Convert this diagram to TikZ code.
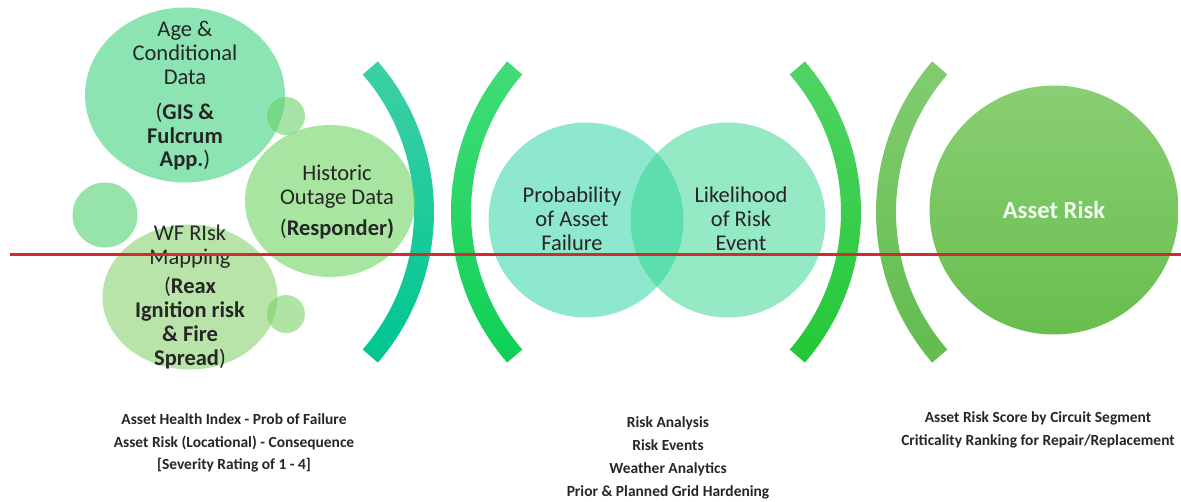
\documentclass[tikz,border=0pt]{standalone}
\usepackage{fontspec}
\setmainfont{Carlito}
\usetikzlibrary{shapes.geometric,positioning}
\definecolor{ageC}{RGB}{63,210,127}
\definecolor{histC}{RGB}{110,213,97}
\definecolor{wfC}{RGB}{138,210,113}
\definecolor{dotA}{RGB}{105,210,105}
\definecolor{dotB}{RGB}{80,210,113}
\definecolor{dotC}{RGB}{122,210,105}
\definecolor{probC}{RGB}{30,210,160}
\definecolor{likeC}{RGB}{45,215,140}
\definecolor{riskTop}{RGB}{138,206,115}
\definecolor{riskBot}{RGB}{104,190,78}
\definecolor{arcAt}{RGB}{60,208,165}
\definecolor{arcAb}{RGB}{0,198,145}
\definecolor{arcBt}{RGB}{65,220,120}
\definecolor{arcBb}{RGB}{15,208,85}
\definecolor{arcCt}{RGB}{80,212,100}
\definecolor{arcCb}{RGB}{35,200,55}
\definecolor{arcDt}{RGB}{130,204,112}
\definecolor{arcDb}{RGB}{98,188,78}
\definecolor{cutline}{RGB}{208,45,48}
\begin{document}
\begin{tikzpicture}[x=0.02cm,y=-0.02cm,
    bubble/.style={ellipse,inner sep=0pt,fill opacity=0.6},
    venn/.style={circle,inner sep=0pt,minimum size=3.9cm,fill opacity=0.5},
    txt/.style={align=center,text=black!85,font=\fontsize{12.8}{13.6}\selectfont},
    note/.style={align=center,text=black!85,font=\fontsize{8.8}{13}\selectfont\bfseries}]
	   \fill [white] (0,0) rectangle (1181,501);
	   \useasboundingbox (0,0) rectangle (1181,501);
	   % brackets
	   \shade [top color=arcAt,bottom color=arcAb] (204,212) ++(-40.9:230) arc [start angle=-40.9,end angle=40.9,radius=230] -- ++(40.9:-20) arc [start angle=40.9,end angle=-40.9,radius=210] -- cycle;
	   \shade [top color=arcBt,bottom color=arcBb] (681,212) ++(139.1:230) arc [start angle=139.1,end angle=220.9,radius=230] -- ++(220.9:-20) arc [start angle=220.9,end angle=139.1,radius=210] -- cycle;
	   \shade [top color=arcCt,bottom color=arcCb] (631,212) ++(-40.9:230) arc [start angle=-40.9,end angle=40.9,radius=230] -- ++(40.9:-20) arc [start angle=40.9,end angle=-40.9,radius=210] -- cycle;
	   \shade [top color=arcDt,bottom color=arcDb] (1106,212) ++(139.1:230) arc [start angle=139.1,end angle=220.9,radius=230] -- ++(220.9:-20) arc [start angle=220.9,end angle=139.1,radius=210] -- cycle;
	   % input bubbles
	   \node [bubble,fill=ageC,minimum width=4cm,minimum height=3.5cm] (age) at (185,95) {};
	   \node [bubble,fill=histC,minimum width=3.4cm,minimum height=3.04cm] (hist) at (330,201) {};
	   \node [bubble,fill=wfC,minimum width=3.5cm,minimum height=2.9cm] (wf) at (190,297) {};
	   \node [bubble,fill=dotA,minimum size=0.76cm] (dotA) at (286,116) {};
	   \node [bubble,fill=dotB,minimum size=1.3cm] (dotB) at (105,215) {};
	   \node [bubble,fill=dotC,minimum size=0.76cm] (dotC) at (286,314) {};
	   \node [txt] (agetxt) at (185,96) {Age \&\\Conditional\\Data\\[6pt](\textbf{GIS \&}\\\textbf{Fulcrum}\\\textbf{App.})};
	   \node [txt] (histtxt) at (337,202) {Historic\\Outage Data\\[4pt](\textbf{Responder)}};
	   \node [txt] (wftxt) at (190,297) {WF RIsk\\Mapping\\[3pt](\textbf{Reax}\\\textbf{Ignition risk}\\\textbf{\& Fire}\\\textbf{Spread})};
	   % venn
	   \node [venn,fill=probC] (prob) at (586,220) {};
	   \node [venn,fill=likeC] (like) at (728,220) {};
	   \node [txt] (probtxt) at (572,219) {Probability\\of Asset\\Failure};
	   \node [txt] (liketxt) at (741,219) {Likelihood\\of Risk\\Event};
	   % result
	   \node [circle,inner sep=0pt,minimum size=4.98cm,top color=riskTop,bottom color=riskBot,text=white!95!green,font=\fontsize{14}{16}\selectfont\bfseries] (risk) at (1054,210) {Asset Risk};
	   % notes
	   \node [note] (health) at (234,443) {Asset Health Index - Prob of Failure\\Asset Risk (Locational) - Consequence\\{[Severity Rating of 1 - 4]}};
	   \node [note] (analysis) at (668,458) {Risk Analysis\\Risk Events\\Weather Analytics\\Prior \& Planned Grid Hardening};
	   \node [note] (score) at (1038,430) {Asset Risk Score by Circuit Segment\\Criticality Ranking for Repair/Replacement};
	   \coordinate (cutL) at (10,254);
	   \coordinate (cutR) at (1181,254);
	   \draw [cutline,line width=0.06cm] (cutL) -- (cutR);
\end{tikzpicture}
\end{document}
